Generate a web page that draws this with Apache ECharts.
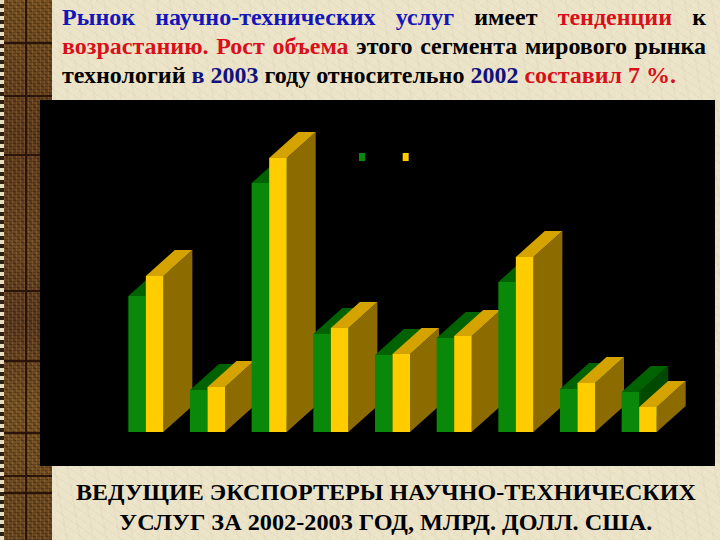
<!DOCTYPE html>
<html>
<head>
<meta charset="utf-8">
<script src="https://cdn.jsdelivr.net/npm/echarts@6/dist/echarts.min.js"></script>
<style>
  html, body { margin:0; padding:0; width:720px; height:540px; overflow:hidden; }
  body {
    position:relative;
    background-color:#ECE4C9;
    background-image:
      repeating-linear-gradient(35deg, rgba(160,140,100,0.07) 0 1px, transparent 1px 7px),
      repeating-linear-gradient(-50deg, rgba(255,255,255,0.10) 0 1px, transparent 1px 11px),
      repeating-linear-gradient(80deg, rgba(150,130,90,0.05) 0 2px, transparent 2px 13px);
  }
  #strip {
    position:absolute; left:0; top:0; width:52px; height:540px;
    background-color:#6A4622;
    background-image:
      repeating-linear-gradient(0deg, rgba(0,0,0,0.18) 0 1px, transparent 1px 3px),
      repeating-linear-gradient(90deg, rgba(190,140,60,0.25) 0 1px, transparent 1px 4px),
      repeating-linear-gradient(45deg, rgba(40,20,10,0.25) 0 2px, transparent 2px 5px),
      linear-gradient(180deg, #7a5426 0%, #5f3d22 25%, #6e4a28 45%, #5a3a24 60%, #7b5628 75%, #6a4824 100%);
  }
  #edge {
    position:absolute; left:0; top:0; width:4px; height:540px;
    background-image: repeating-linear-gradient(180deg, #E6DCC0 0 4px, #2E2014 4px 8px);
  }
  .vl { position:absolute; left:25px; top:0; width:2px; height:540px; background:#2A140A; }
  .hl { position:absolute; left:4px; width:48px; height:2px; background:#2A140A; }
  #chart { position:absolute; left:40px; top:100px; width:675px; height:366px; background:#000; }
  .serif { font-family: 'Liberation Serif', 'Times New Roman', Tinos, serif; font-weight:bold; }
  #para { position:absolute; left:62px; top:3px; width:644px; font-size:24px; line-height:29px; color:#000; }
  #para div { white-space:nowrap; }
  .just { text-align:justify; text-align-last:justify; }
  .blue { color:#1515B8; }
  .navy { color:#12127E; }
  .red { color:#D8101A; }
  #cap { position:absolute; left:52px; width:668px; top:477px; text-align:center; font-size:24px; line-height:30px; color:#000; }
</style>
</head>
<body>
<div id="strip"></div>
<div id="edge"></div>
<div class="vl"></div>
<div class="hl" style="top:42px"></div>
<div class="hl" style="top:95px"></div>
<div class="hl" style="top:154px"></div>
<div class="hl" style="top:290px"></div>
<div class="hl" style="top:360px"></div>
<div class="hl" style="top:432px"></div>
<div class="hl" style="top:475px"></div>
<div class="hl" style="top:492px"></div>

<div id="para" class="serif">
  <div class="just"><span class="blue">Рынок научно-технических услуг</span> имеет <span class="red">тенденции</span> к</div>
  <div class="just" id="l2"><span class="red">возрастанию. Рост объема</span> этого сегмента мирового рынка</div>
  <div><span id="l3">технологий <span class="navy">в 2003</span> году относительно <span class="navy">2002</span> <span class="red">составил 7 %.</span></span></div>
</div>

<div id="chart"></div>

<div id="cap" class="serif"><span id="c1">ВЕДУЩИЕ ЭКСПОРТЕРЫ НАУЧНО-ТЕХНИЧЕСКИХ</span><br><span id="c2">УСЛУГ ЗА 2002-2003 ГОД, МЛРД. ДОЛЛ. США.</span></div>

<script>
// ---- data (arbitrary units) ----
const categories = ['1', '2', '3', '4', '5', '6', '7', '8', '9'];
const seriesNames = ['2002', '2003'];
const values2002 = [13.6, 4.2, 24.9, 9.8, 7.7, 9.4, 15.0, 4.3, 4.0];
const values2003 = [15.6, 4.5, 27.4, 10.4, 7.8, 9.6, 17.5, 4.9, 2.5];

// ---- styles ----
const palettes = [
  { front: '#0A880A', top: '#006200', side: '#004A00' },
  { front: '#FFCC00', top: '#D4A300', side: '#8C6C00' }
];
const DEPTH_X = 29, DEPTH_Y = -26, BAR_FRAC = 0.284;

function makeRender(sIdx) {
  const pal = palettes[sIdx];
  return function (params, api) {
    const idx = api.value(0);
    const v = api.value(1);
    const base = api.coord([idx, 0]);
    const topPt = api.coord([idx, v]);
    const bw = api.size([1, 0])[0] * BAR_FRAC;
    const x0 = sIdx === 0 ? base[0] - bw : base[0];
    const x1 = x0 + bw;
    const yt = topPt[1], yb = base[1];
    const z2 = idx * 4 + sIdx * 2;
    return {
      type: 'group',
      children: [
        { type: 'polygon', z2: z2,
          shape: { points: [[x1, yt], [x1 + DEPTH_X, yt + DEPTH_Y], [x1 + DEPTH_X, yb + DEPTH_Y], [x1, yb]] },
          style: { fill: pal.side } },
        { type: 'polygon', z2: z2,
          shape: { points: [[x0, yt], [x1, yt], [x1 + DEPTH_X, yt + DEPTH_Y], [x0 + DEPTH_X, yt + DEPTH_Y]] },
          style: { fill: pal.top } },
        { type: 'rect', z2: z2 + 1,
          shape: { x: x0, y: yt, width: bw, height: yb - yt },
          style: { fill: pal.front } }
      ]
    };
  };
}

const chart = echarts.init(document.getElementById('chart'), null, { renderer: 'canvas' });
const allValues = [values2002, values2003];
chart.setOption({
  backgroundColor: '#000',
  animation: false,
  legend: {
    data: seriesNames,
    left: 314, top: 46,
    icon: 'rect', itemWidth: 6, itemHeight: 8, itemGap: 6,
    textStyle: { color: '#000', fontSize: 12 }
  },
  grid: { left: 75, right: 45, top: 32, bottom: 34 },
  xAxis: { type: 'category', data: categories, show: false },
  yAxis: { type: 'value', min: 0, max: 30, show: false, splitLine: { show: false } },
  series: seriesNames.map((name, s) => ({
    name: name,
    type: 'custom',
    z: 2,
    itemStyle: { color: palettes[s].front },
    renderItem: makeRender(s),
    data: allValues[s].map((v, i) => [i, v])
  }))
});

// fit text widths to the reference (line 3 spans ~614px, caption lines ~620/533px)
function fit(id, target, origin) {
  const el = document.getElementById(id);
  el.style.display = 'inline-block';
  const w = el.getBoundingClientRect().width;
  if (w > 0) {
    el.style.transformOrigin = origin;
    el.style.transform = 'scaleX(' + (target / w) + ')';
  }
}
fit('l3', 614, 'left center');
fit('c1', 620, 'center center');
fit('c2', 533, 'center center');
// keep line 2 inside its 644px box if the font runs wide
(function () {
  const l2 = document.getElementById('l2');
  const probe = document.createElement('span');
  probe.style.whiteSpace = 'nowrap';
  probe.innerHTML = l2.innerHTML;
  l2.innerHTML = '';
  l2.appendChild(probe);
  const w = probe.getBoundingClientRect().width;
  l2.innerHTML = probe.innerHTML;
  if (w > 644) {
    l2.style.transformOrigin = 'left center';
    l2.style.width = w + 'px';
    l2.style.transform = 'scaleX(' + (644 / w) + ')';
  }
})();
</script>
</body>
</html>
